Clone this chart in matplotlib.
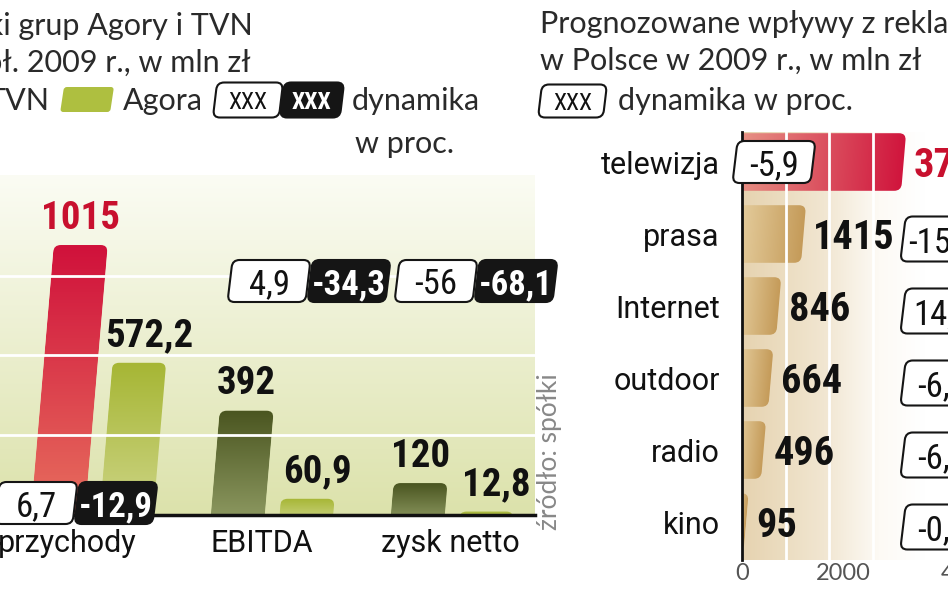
import numpy as np
import matplotlib.pyplot as plt
from matplotlib.patches import FancyBboxPatch
from matplotlib.transforms import Affine2D, ScaledTranslation
from matplotlib.colors import LinearSegmentedColormap

# wyniki grup Agora i TVN, I pol. 2009, mln zl
kategorie = ['przychody', 'EBITDA', 'zysk netto']
tvn = [1015, 392, 120]
agora = [572.2, 60.9, 12.8]
tvn_dyn = ['6,7', '4,9', '-56']
agora_dyn = ['-12,9', '-34,3', '-68,1']

# prognoza wplywow z reklamy 2009, mln zl
media = ['telewizja', 'prasa', 'Internet', 'outdoor', 'radio', 'kino']
wplywy = [3716, 1415, 846, 664, 496, 95]
media_dyn = ['-5,9', '-15,2', '14,3', '-6,1', '-6,5', '-0,4']

siatka_l = [300, 600, 900]
siatka_r = [1000, 2000, 3000]

W, H = 948, 593
COND = ['Roboto Condensed', 'DejaVu Sans']
REG = ['Roboto', 'DejaVu Sans']
LIGHT = ['Lato', 'DejaVu Sans']
SLANT = 0.085

fig = plt.figure(figsize=(W / 100, H / 100), dpi=100)


def fx(x):
    return x / W


def fy(y):
    return 1 - y / H


def cmap(*cols):
    return LinearSegmentedColormap.from_list('c', cols)


def fmt(v):
    return f'{v:g}'.replace('.', ',')


def slant(ax, x0, y0, k=SLANT):
    # pochylenie w pikselach wokol punktu (x0, y0)
    px, py = ax.transData.transform((x0, y0))
    return ax.transData + Affine2D().translate(-px, -py).skew(np.arctan(k), 0).translate(px, py)


def rounded_bar(ax, rect, T, r_px, cm, vertical):
    x, y = rect.get_xy()
    w, h = rect.get_width(), rect.get_height()
    rect.remove()
    (x0, y0), (x1, y1) = ax.transData.transform([(0, 0), (1, 1)])
    sx, sy = abs(x1 - x0), abs(y1 - y0)
    if vertical:
        y -= r_px / sy
        h += r_px / sy
    else:
        x -= r_px / sx
        w += r_px / sx
    p = FancyBboxPatch((x, y), w, h, boxstyle=f'round,pad=0,rounding_size={r_px / sx}',
                       mutation_aspect=sx / sy, transform=T, fc='none', ec='none')
    ax.add_patch(p)
    g = np.linspace(0, 1, 256)
    arr = g.reshape(-1, 1) if vertical else g.reshape(1, -1)
    im = ax.imshow(arr, cmap=cm, extent=[x, x + w, y, y + h], origin='lower',
                   aspect='auto', interpolation='bicubic', zorder=1.5)
    im.set_transform(T)
    im.set_clip_path(p)


def tag(xl, yc, txt, dark=False, w=78, h=42, size=25):
    yd = H - yc
    T = Affine2D().translate(-(xl + w / 2), -yd).skew(np.arctan(0.12), 0).translate(xl + w / 2, yd)
    p = FancyBboxPatch((xl, yd - h / 2), w, h, boxstyle='round,pad=0,rounding_size=7',
                       transform=T, fc='#151515' if dark else 'white', ec='#151515', lw=1.5, zorder=5)
    fig.add_artist(p)
    fig.text(fx(xl + w / 2), fy(yc), txt, ha='center', va='center_baseline', size=size, family=COND,
             weight='bold' if dark else 'normal', color='white' if dark else '#111', zorder=6)


# ---------- lewy wykres ----------
axL = fig.add_axes([0, fy(515), fx(535), (515 - 175) / H])
axL.set_xlim(-92 / 180, (535 - 92) / 180)
axL.set_ylim(0, 340 / 0.266)
axL.set_autoscale_on(False)
axL.imshow(np.linspace(0, 1, 256).reshape(-1, 1), cmap=cmap('#dce2ab', '#fbfcf4'),
           extent=[*axL.get_xlim(), *axL.get_ylim()], origin='lower', aspect='auto', zorder=0)

x = np.arange(len(kategorie))
T = slant(axL, 0, 0)
red_v = cmap('#e8715f', '#d0113b')
olive_v = cmap('#8e9a62', '#4a5520')
green_v = cmap('#cfd68a', '#a6b634')
b1 = axL.bar(x - 0.19, tvn, 0.3)
b2 = axL.bar(x + 0.19, agora, 0.3)
for i, r in enumerate(b1):
    rounded_bar(axL, r, T, 7, red_v if i == 0 else olive_v, True)
for r in b2:
    rounded_bar(axL, r, T, 7, green_v, True)

for xi, v, c in zip(x - 0.19, tvn, ['#c8102e', '#111', '#111']):
    axL.annotate(fmt(v), (xi, v), xycoords=T, xytext=(0, 6), textcoords='offset points',
                 ha='center', va='bottom', fontsize=28, fontweight='bold', family=COND, color=c)
for xi, v in zip(x + 0.19, agora):
    axL.annotate(fmt(v), (xi, v), xycoords=T, xytext=(7, 6), textcoords='offset points',
                 ha='center', va='bottom', fontsize=28, fontweight='bold', family=COND, color='#111')

for g in siatka_l:
    axL.axhline(g, color='white', lw=2, zorder=2.5)
axL.axhline(0, color='#111', lw=2.5, zorder=3, clip_on=False)

for s in axL.spines.values():
    s.set_visible(False)
axL.set_yticks([])
axL.set_xticks([-0.14, 0.945, 1.99])
axL.set_xticklabels(kategorie, family=REG, fontsize=22, color='#111')
axL.tick_params(axis='x', length=0, pad=10)

para_x = [76, 309, 476]
para_y = [503, 281, 281]
for xj, yj, a, b in zip(para_x, para_y, tvn_dyn, agora_dyn):
    tag(xj - 79, yj, a)
    tag(xj + 1, yj, b, dark=True)

# ---------- prawy wykres ----------
axR = fig.add_axes([fx(742), fy(560), fx(948) - fx(742), (560 - 132) / H])
axR.set_xlim(0, 206 / 43.5 * 1000)
axR.set_ylim(5 + 38 / 72, -30 / 72)
axR.set_autoscale_on(False)
grad = np.linspace(0, 1, 256).reshape(1, -1)
axR.imshow(grad, cmap=LinearSegmentedColormap.from_list(
    'bg', [(0, '#e6d3b0'), (0.45, '#f1e6d1'), (0.75, '#fdfaf5'), (1, '#ffffff')]),
    extent=[0, 4200, *axR.get_ylim()], aspect='auto', zorder=0)

y = np.arange(len(media))
red_h = cmap('#e79486', '#d0143c')
tan_h = cmap('#e6cfa0', '#c49a58')
bars = axR.barh(y, wplywy, height=0.8)
for i, r in enumerate(bars):
    rounded_bar(axR, r, slant(axR, 0, i), 7, red_h if i == 0 else tan_h, False)

for g in siatka_r:
    axR.axvline(g, color='white', lw=2, zorder=2.5)

for i, v in enumerate(wplywy):
    axR.annotate(fmt(v), (v, i), xytext=(7, 0), textcoords='offset points', ha='left',
                 va='center_baseline', fontsize=29, fontweight='bold', family=COND,
                 color='#c8102e' if i == 0 else '#111', annotation_clip=False)

for s in ['top', 'right', 'bottom']:
    axR.spines[s].set_visible(False)
axR.spines['left'].set_linewidth(2)
axR.spines['left'].set_color('#111')
axR.spines['left'].set_zorder(3)
axR.set_yticks(y)
axR.set_yticklabels(media, family=REG, fontsize=22, color='#111')
axR.set_xticks([0, 2000, 4000])
axR.set_xticklabels(['0', '2000', '4000'], family=LIGHT, fontsize=17, color='#555')
axR.tick_params(axis='y', length=0, pad=16)
axR.tick_params(axis='x', length=0, pad=2)
for lab, dx in zip(axR.get_xticklabels(), [0, 14, 52]):
    lab.set_transform(lab.get_transform() + ScaledTranslation(dx / 100, 0, fig.dpi_scale_trans))

for i, d in enumerate(media_dyn):
    yc = H - axR.transData.transform((0, i))[1]
    if i == 0:
        tag(735, yc, d)
    else:
        tag(903, yc + 5, d, h=45)

# ---------- tytuly ----------
tkw = dict(family=LIGHT, size=22, color='#2a2a2a', va='baseline')
fig.text(fx(253), fy(35), 'Wyniki grup Agory i TVN', ha='right', **tkw)
fig.text(fx(251), fy(72), 'w I pół. 2009 r., w mln zł', ha='right', **tkw)
fig.text(fx(50), fy(110), 'TVN', ha='right', **tkw)
sw = Affine2D().translate(-87, -(H - 100)).skew(np.arctan(0.15), 0).translate(87, H - 100)
fig.add_artist(FancyBboxPatch((62, H - 112), 50, 25, boxstyle='round,pad=0,rounding_size=3',
                              transform=sw, fc='#aebf40', ec='none'))
fig.text(fx(123), fy(110), 'Agora', ha='left', **tkw)
tag(215, 100, 'XXX', w=66, h=35, size=17)
tag(282, 100, 'XXX', dark=True, w=60, h=35, size=17)
fig.text(fx(352), fy(110), 'dynamika', ha='left', **tkw)
fig.text(fx(355), fy(153), 'w proc.', ha='left', **tkw)

fig.text(fx(540), fy(33), 'Prognozowane wpływy z reklam', ha='left', **tkw)
fig.text(fx(540), fy(70), 'w Polsce w 2009 r., w mln zł', ha='left', **tkw)
tag(540, 101, 'XXX', w=65, h=33, size=17)
fig.text(fx(618), fy(110), 'dynamika w proc.', ha='left', **tkw)

fig.text(fx(549), fy(452), 'źródło: spółki', rotation=90, ha='center', va='center',
         family=LIGHT, size=19, color='#888')

fig.savefig('out.png', dpi=100)
